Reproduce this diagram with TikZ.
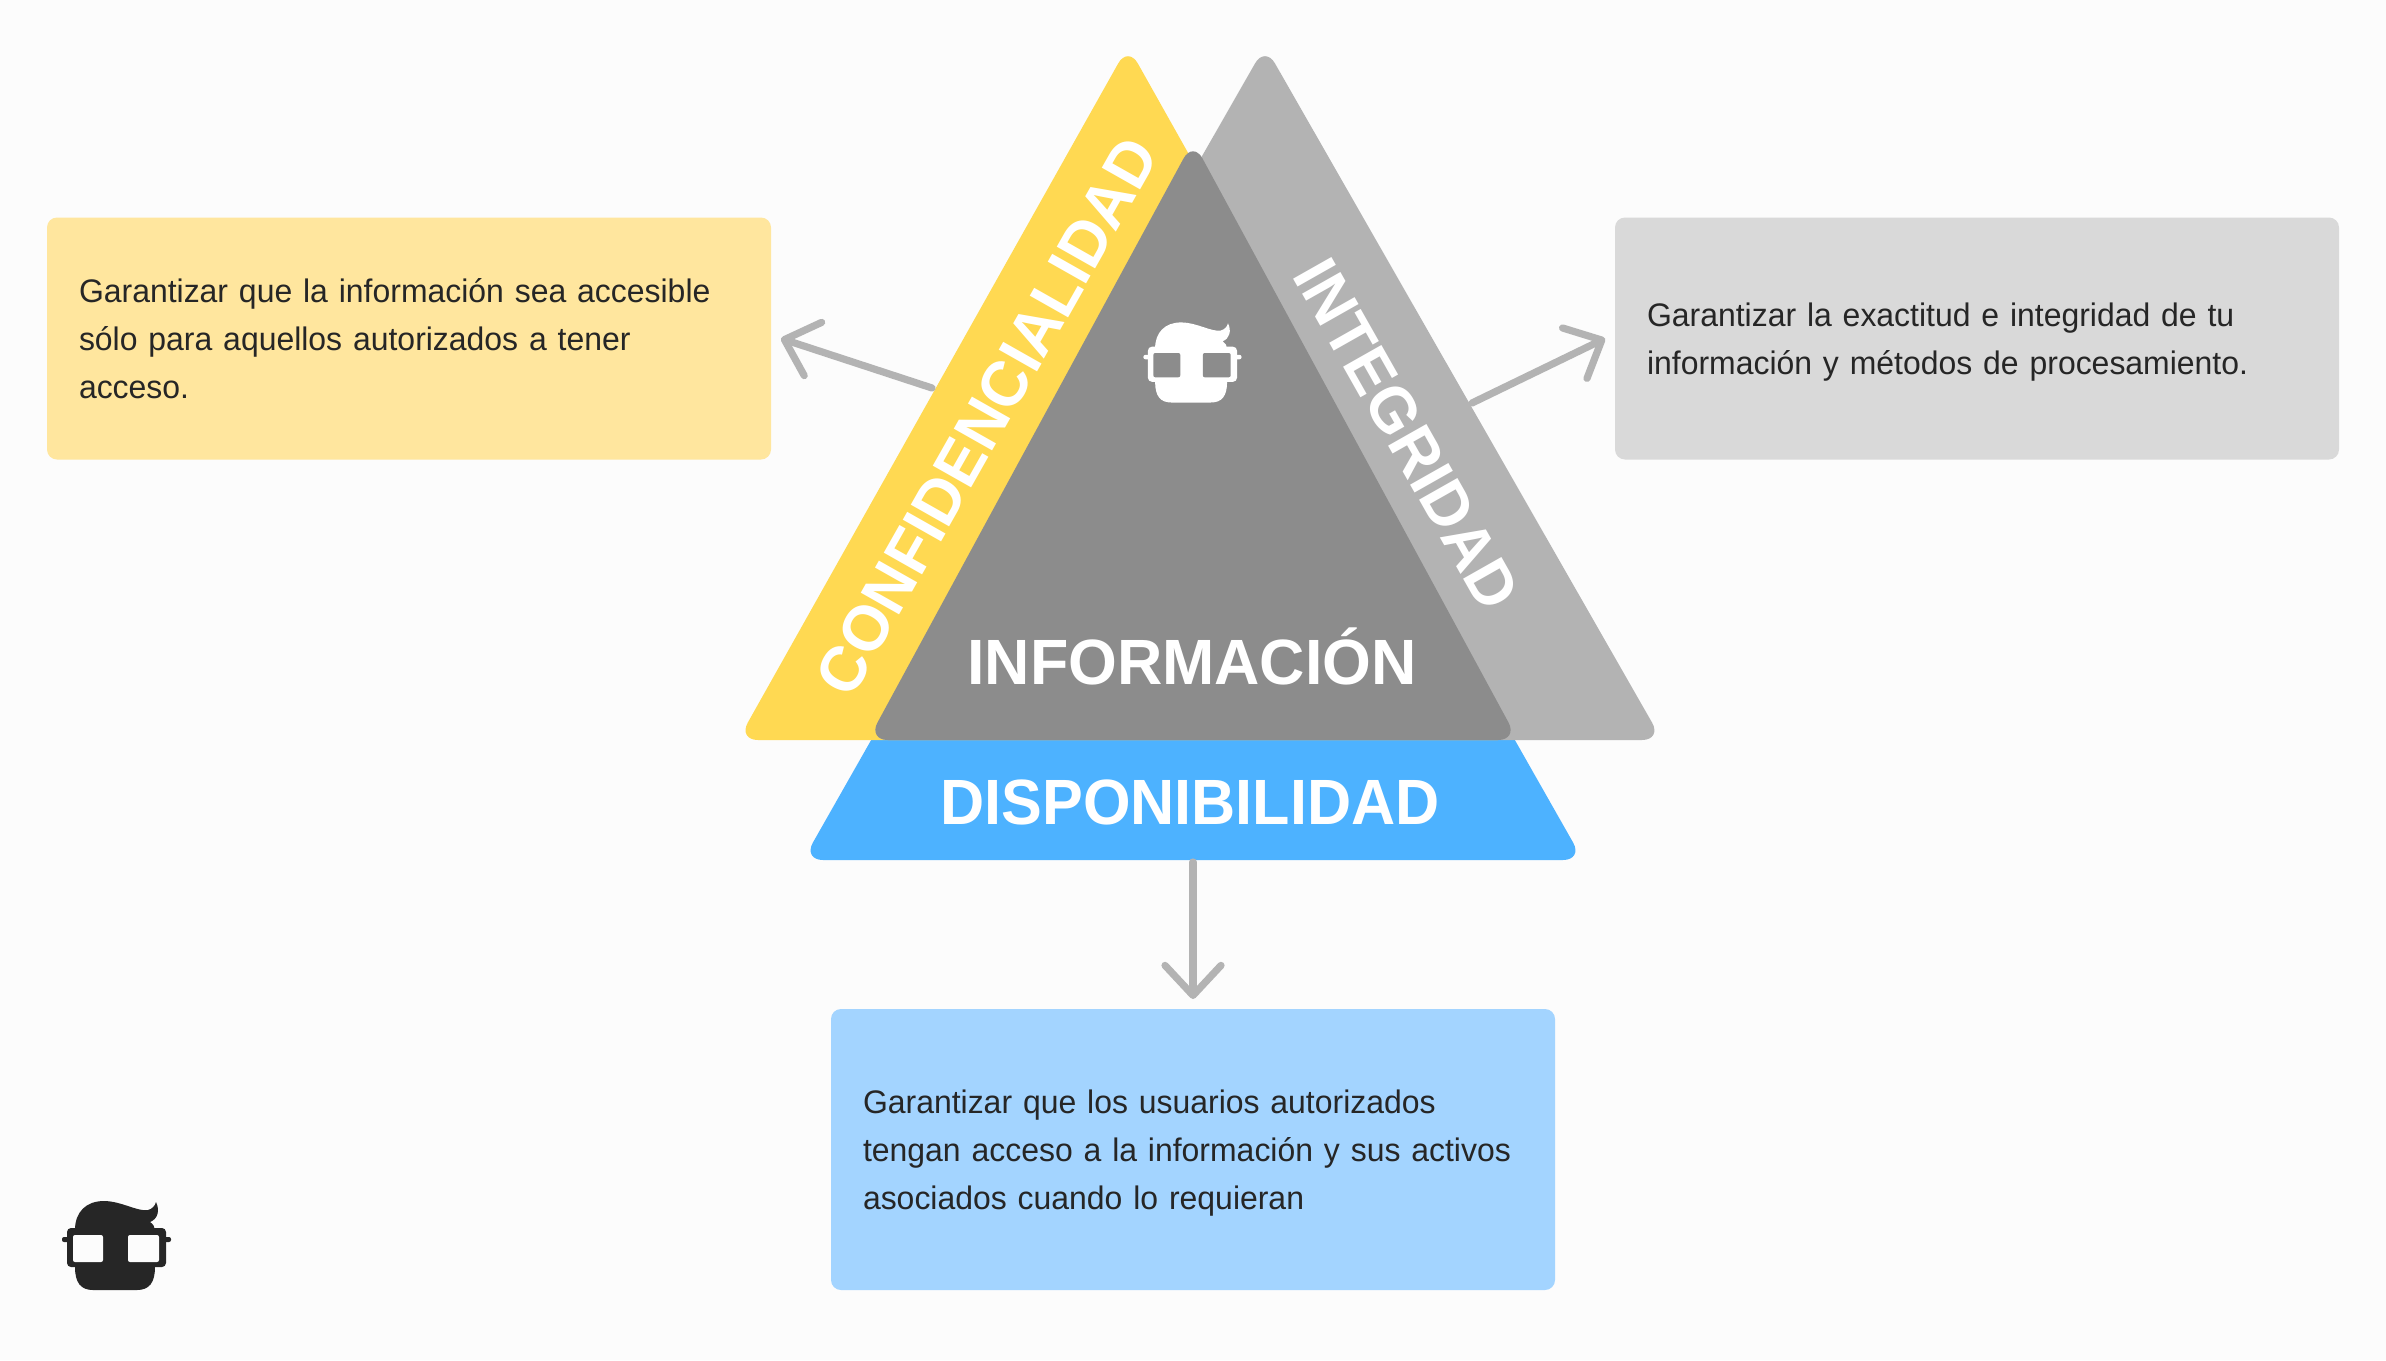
\documentclass[tikz,border=0pt]{standalone}
\usepackage{fontspec}
\setmainfont{Liberation Sans}[FakeStretch=0.98]
\newfontfamily\labfont{Liberation Sans}[FakeStretch=0.98]
\newfontfamily\labnarrow{Liberation Sans}[FakeStretch=0.955]
\usetikzlibrary{arrows.meta}
\definecolor{paper}{HTML}{FCFCFC}
\definecolor{conf}{HTML}{FFD952}
\definecolor{conf2}{HTML}{FFE69E}
\definecolor{integ}{HTML}{B3B3B3}
\definecolor{integ2}{HTML}{D9D9D9}
\definecolor{disp}{HTML}{4DB2FF}
\definecolor{disp2}{HTML}{A3D4FF}
\definecolor{info}{HTML}{8C8C8C}
\definecolor{ink}{HTML}{262626}
\tikzset{
  >={Straight Barb[length=15pt,width=28pt,round]},
  tri/.style={rounded corners=10pt},
  box/.style={rounded corners=5pt,inner sep=0pt,outer sep=5pt,text width=330pt,minimum width=362pt,align=left,text=ink,font=\fontsize{16.3}{24}\selectfont,execute at begin node={\rule{0pt}{18.8pt}},execute at end node=\strut},
  lab/.style={text=white,inner sep=0pt,font=\fontsize{32}{32}\selectfont\labfont\bfseries,text height=23pt,text depth=0pt},
  arr/.style={->,draw=integ,line width=3.6pt,line cap=round},
}
\newcommand{\nerdhead}[4]{%
  \begin{scope}[shift={(#1,#2)},scale=#3]
    \fill[#4] (-41,-15) .. controls (-41,-33) and (-30,-44) .. (-12,-44)
      .. controls (5,-44) and (22,-33) .. (32,-35)
      .. controls (36,-36) and (39,-39) .. (40,-43)
      .. controls (44,-35) and (42,-26) .. (34,-23)
      .. controls (37,-21) and (39,-18) .. (39,-15) -- (39,22)
      .. controls (39,38) and (33,45) .. (21,45) -- (-23,45)
      .. controls (-35,45) and (-41,38) .. (-41,22) -- cycle;
    \fill[#4,rounded corners=2pt] (-49,-17) rectangle (50,22);
    \fill[#4,rounded corners=1pt] (-54,-8) rectangle (55,-3);
  \end{scope}}
\newcommand{\nerdlens}[4]{%
  \begin{scope}[shift={(#1,#2)},scale=#3]
    \fill[#4,rounded corners=1pt] (-43,-10) rectangle (-13,17);
    \fill[#4,rounded corners=1pt] (12,-10) rectangle (43,17);
  \end{scope}}

\begin{document}
\begin{tikzpicture}[x=0.5pt,y=-0.5pt]
\useasboundingbox (0,0) rectangle (2386,1360);
\fill[paper] (0,0) rectangle (2386,1360);
% Triangles
\fill[disp] (874,735) [rounded corners=10pt] -- (803,860) -- (1583,860) [sharp corners] -- (1512,735) -- cycle;
\fill[conf,tri] (738,740) -- (1128,46) -- (1518,740) -- cycle;
\fill[integ,tri] (868,740) -- (1265,46) -- (1662,740) -- cycle;
\fill[info,tri] (868,740) -- (1193,141) -- (1518,740) -- cycle;
% Text on the triangles
\node[lab,rotate=60.5] (lconf) at (986,416) {CONFIDENCIALIDAD};
\node[lab,rotate=-60.5] (linteg) at (1408,434) {INTEGRIDAD};
\node[lab] (linfo) at (1192,661) {INFORMACIÓN};
\node[lab,font=\fontsize{32}{32}\selectfont\labnarrow\bfseries] (ldisp) at (1190,801) {DISPONIBILIDAD};
% Boxes
\node[box,fill=conf2,minimum height=121pt] (boxconf) at (409,338.5) {Garantizar que la información sea accesible\\sólo para aquellos autorizados a tener\\acceso.};
\node[box,fill=integ2,minimum height=121pt] (boxinteg) at (1977,338.5) {Garantizar la exactitud e integridad de tu\\información y métodos de procesamiento.};
\node[box,fill=disp2,minimum height=140.5pt] (boxdisp) at (1193,1149.5) {Garantizar que los usuarios autorizados\\tengan acceso a la información y sus activos\\asociados cuando lo requieran};
% Arrows
\coordinate (outconf) at (932,388);
\coordinate (outinteg) at (1472,403);
\coordinate (outdisp) at (1193,862);
\draw[arr] (outconf) -- (boxconf.east);
\draw[arr] (outinteg) -- (boxinteg.west);
\draw[arr] (outdisp) -- (boxdisp.north);
% Heads
\nerdhead{1192}{362}{0.9}{white}
\nerdlens{1192}{362}{0.9}{info}
\nerdhead{116}{1245}{1}{ink}
\nerdlens{116}{1245}{1}{paper}
\end{tikzpicture}
\end{document}
